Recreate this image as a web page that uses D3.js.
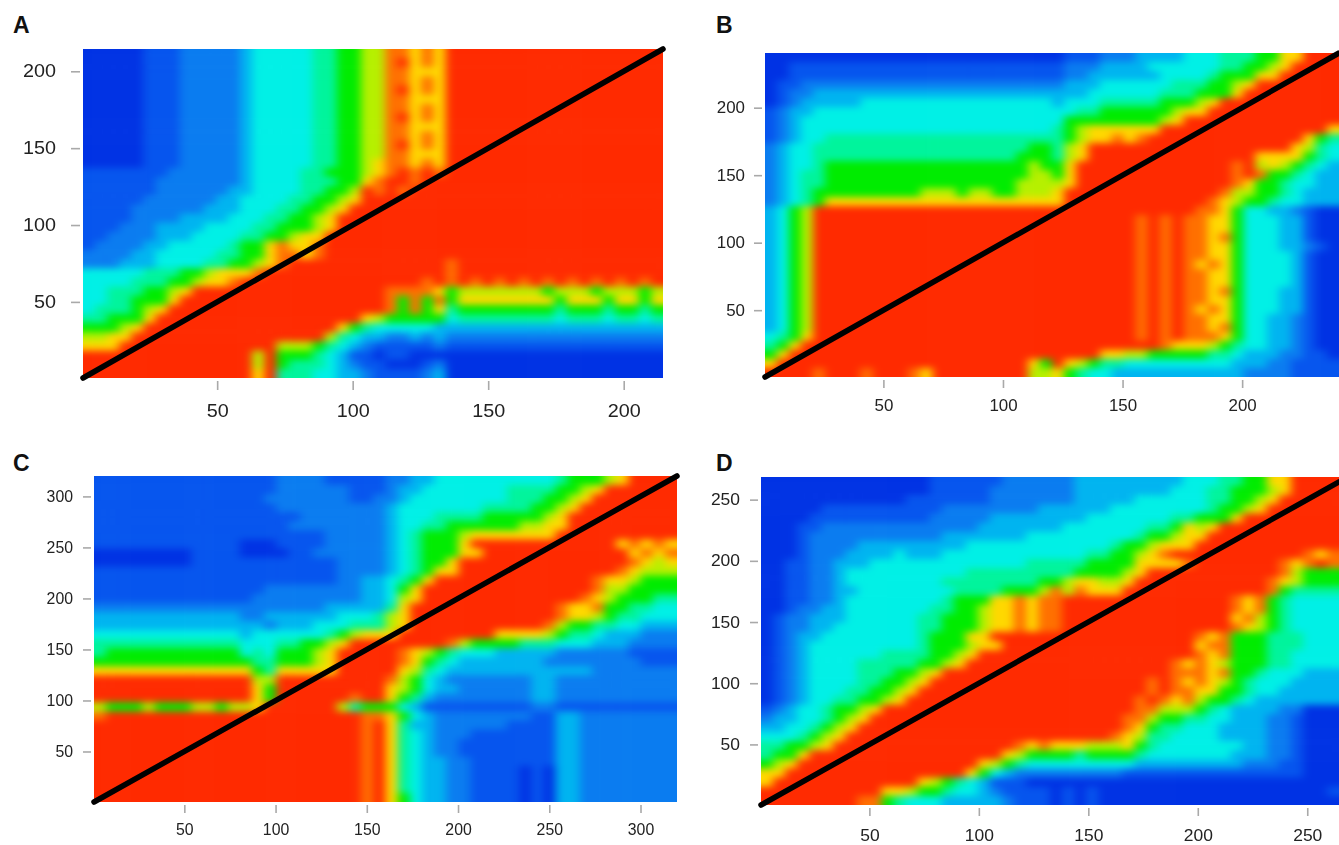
<!DOCTYPE html>
<html>
<head>
<meta charset="utf-8">
<script src="https://d3js.org/d3.v7.min.js"></script>
<style>
  body { margin: 0; background: #fff; overflow: hidden; }
  svg { display: block; }
  text { font-family: "Liberation Sans", Arial, sans-serif; }
  .tick line { stroke: #a9a9a9; stroke-width: 1.6; }
  .tick text { fill: #222; }
  .panel-label { font-weight: bold; font-size: 23px; fill: #111; }
</style>
</head>
<body>
<svg id="chart" width="1339" height="845"></svg>
<script>
// every row reads left to right, rows go top to bottom of the panel
// level 0 = deep blue ... 8 = yellow, o = orange, 9 = red
const panelA = [
  "000001112222 234444455667 7oo8o8999999 999999999999",
  "000001112222 234444455667 7o98o8999999 999999999999",
  "000001112222 234444455667 7oo888999999 999999999999",
  "000001112222 234444455667 7oo8o8999999 999999999999",
  "000001112222 234444455667 7o98o8999999 999999999999",
  "000001112222 234444455667 7oo888999999 999999999999",
  "000001112222 234444455667 7oo8o8999999 999999999999",
  "000001112222 234444455667 7o98o8999999 999999999999",
  "000001112222 234444455667 7oo888999999 999999999999",
  "000001112222 234444455667 7oo8o8999999 999999999999",
  "000001112222 234444455667 7o98o8999999 999999999999",
  "000001112222 234444455667 7oo888999999 999999999999",
  "000001112222 234444455667 8oo8o8999999 999999999999",
  "111111122222 234444556667 8o9o9o999999 999999999999",
  "111111222222 234444555668 o99o99999999 999999999999",
  "111111222222 334444556679 o9o999999999 999999999999",
  "111112222223 344445566789 999999999999 999999999999",
  "111122222233 344455667899 999999999999 999999999999",
  "111122223333 444556678999 999999999999 999999999999",
  "111222333344 445566678999 999999999999 999999999999",
  "112222333444 455667889999 999999999999 999999999999",
  "122223344444 5668o88o9999 999999999999 999999999999",
  "222233444445 5668oo8o9999 999999999999 999999999999",
  "222333444455 6678o9999999 999999o99999 999999999999",
  "444445556678 88o999999999 999999o99999 999999999999",
  "444455566788 o99999999999 9999o9o9o9o9 o9o9o9o9o9o9",
  "445556678999 999999999999 9oooo8677777 776777677767",
  "445566689999 999999999999 9o6o6o688888 888688868868",
  "455567899999 999999999999 9o6o68566666 666566656656",
  "556668999999 999999999998 766666455555 555455545545",
  "666789999999 999999999865 444443333333 333333333333",
  "778899999999 999999997543 322323222222 222222222222",
  "888999999999 999977765432 111112111111 111111111111",
  "999999999999 997966654311 011000000000 000000000000",
  "999999999999 997965554321 100012000000 000000000000",
  "999999999999 998955544332 111123000000 000000000000"
];
const panelB = [
  "000000000000 000000000000 011122233334 445556688999",
  "001111111111 111111111111 122233334444 445566789999",
  "001111111111 111111111111 122333333444 456668899999",
  "011222222222 222222222222 233344444455 566789999999",
  "012233333333 333333333333 333444444555 666899999999",
  "012333334444 444444444444 344455555666 789999999999",
  "123344444444 444444444444 445566666678 899999999999",
  "123444444444 444444444444 466666666789 999999999999",
  "123444444444 444444444444 567888888999 999999999998",
  "123445555555 555555555555 56788o8o9999 999999999865",
  "234455555555 555555555566 578999999999 999999998754",
  "234455555555 555555555666 578999999999 999998888654",
  "234456666666 666666666676 689999999999 999o97876543",
  "234556666666 666666666677 689999999999 999o9o665433",
  "234556666666 666666666777 789999999999 999o86654433",
  "234566666666 677767766777 899999999999 99o776654333",
  "234568888888 888888888888 899999999999 9o8766544333",
  "346799999999 999999999999 999999999999 oo8644332100",
  "346799999999 999999999999 9999999o9o9o o88644433100",
  "346799999999 999999999999 9999999o9o9o o88644433100",
  "346799999999 999999999999 9999999o9o9o o8o644433100",
  "346799999999 999999999999 9999999o9o9o o88644433210",
  "346799999999 999999999999 9999999o9o9o o88644443100",
  "346799999999 999999999999 9999999o9o9o 8o8644443100",
  "346799999999 999999999999 9999999o9o9o o88644443100",
  "346799999999 999999999999 9999999o9o9o o88644443100",
  "346799999999 999999999999 9999999o9o9o o8o644433100",
  "346799999999 999999999999 9999999o9o9o o88644433100",
  "346799999999 999999999999 9999999o9o9o 8o8644433100",
  "346799999999 999999999999 9999999o9o9o o88644332100",
  "346799999999 999999999999 9999999o9o9o o8o644332100",
  "456899999999 999999999999 9999999o9o9o oo8644332100",
  "568999999999 999999999999 999999999o88 876544332100",
  "689999999999 999999999999 999988776666 655433322110",
  "899999999999 999999999986 987655444444 444333221111",
  "9999o999o999 o89999999977 865443333333 333322221111"
];
const panelC = [
  "111111111111 111222211111 223344444444 445666789999",
  "111111111111 111222222111 233444444455 556678999999",
  "111111111111 112222222112 234444444455 566789999999",
  "111111111111 111222222222 344444445555 667899999999",
  "111111111111 111112222222 344455556666 678999999999",
  "111111111111 111122222222 344556666667 788999999999",
  "111111111111 111111122222 345666788888 889999999999",
  "111111111111 000111122222 345666899999 99999998o8o8",
  "000000001111 000011222222 345666889999 999999998o8o",
  "000000001111 111111112222 345668999999 99999999o878",
  "111111111111 111111112222 345688999999 9999999o8777",
  "111111111111 111111112233 456899999999 99999o887666",
  "111111111111 112222222233 468999999999 99999o776666",
  "111111111111 122222222233 478999999999 9999o8766655",
  "222222222222 222222233333 589999999999 99o88o665544",
  "333333333333 223333334445 789999999999 99o887655444",
  "333333333333 332333444555 789999999999 9o7665544333",
  "444444444444 344444456788 899999999888 876554333222",
  "555555555555 444556678999 99999o766665 554443332222",
  "566666666666 454666789999 9o8765444333 332222221111",
  "666666666666 655666789999 9o8654333333 322222222111",
  "888888888888 865888889999 987543333333 333332222222",
  "999999999999 977999999999 o76432222222 332222222222",
  "999999999999 986999999999 876433222222 332222222222",
  "999999999999 986999999o99 865322222222 332222222222",
  "766676667767 789999997566 643111111111 221111111111",
  "o99999999999 9999999999oo 864322222222 113322222222",
  "999999999999 9999999999o9 853322222211 113322222222",
  "999999999999 9999999999o9 854322211111 113322222222",
  "999999999999 9999999999o9 854322111111 113322222222",
  "999999999999 9999999999o9 854322111111 113322222222",
  "999999999999 9999999999o9 854332211111 113322222222",
  "999999999999 9999999999o9 854332211110 103322222222",
  "999999999999 9999999999o9 854332211110 103322222222",
  "999999999999 9999999999o9 854332211110 103322222222",
  "999999999999 9999999999o9 864332211110 103322222222"
];
const panelD = [
  "000000000000 001111112222 223333333334 445566889999",
  "000000000000 001111122222 223333333344 455666789999",
  "000000000000 111111122222 223333344444 455667899999",
  "000001111111 111222222223 333334444444 456678999999",
  "000011111111 112222233333 333444444455 666899999999",
  "000112222222 222222333333 344444445568 789999999999",
  "000122222222 222333333344 444444456678 899999999999",
  "000122223333 333334444444 444445667888 999999999999",
  "000122233334 333444444444 444556678o99 999999999o8o",
  "001122333444 444444444455 55566668888o 9999999o8o9o",
  "001122344444 444445555555 556666789999 9999999o7666",
  "001122344444 444555555556 678877899999 999999o87666",
  "001122334444 444455556667 o7o888999999 999999o65555",
  "001122344444 4445666 88o8o o99999999999 999o8o654444",
  "001223344444 445566788o8o o99999999999 999o8o654444",
  "012233344444 455666788o8o o99999999999 9998o7654444",
  "012233444444 455666788o8o o99999999999 999o87654444",
  "012334444444 456668899999 999999999999 o8o666555444",
  "012344444444 456667889999 999999999999 8oo666555444",
  "012344444455 556678999999 999999999999 o8o666554444",
  "012344445555 566789999999 9999999999o8 o87666554444",
  "012344445556 678999999999 9999999999oo o8o665444333",
  "012344445566 789999999999 99999999o9o8 o87654443333",
  "012344455667 899999999999 99999999o9oo 886654433333",
  "012344556678 999999999999 9999999o9o8o 766543333333",
  "123445667899 999999999999 9999999oo777 654333322000",
  "233445678999 999999999999 999999oo7665 544333221000",
  "334456789999 999999999999 999999o86554 443333221000",
  "444567899999 999999999999 99999o875544 443333221000",
  "556678999999 999999999o8o 888777865444 444433221000",
  "566899999999 999999998766 665666654444 444333221000",
  "678999999999 999999876544 444444433333 333322211000",
  "889999999999 999998643222 222222111111 111111111000",
  "899999999999 987654311100 000000000000 000000000000",
  "999999999988 766544321111 010100000000 000000000001",
  "99999999oo65 444333332111 010100000000 000000000000"
];

// axis ticks
const ticksA = [50, 100, 150, 200];
const ticksB = [50, 100, 150, 200];
const ticksCx = [50, 100, 150, 200, 250, 300];
const ticksCy = [50, 100, 150, 200, 250, 300];
const ticksDx = [50, 100, 150, 200, 250];
const ticksDy = [50, 100, 150, 200, 250];

// matrix sizes
const sizeA = 214.5, sizeB = 240.5, sizeC = 320, sizeD = 264.5;

const levelColor = d3.scaleLinear()
  .domain([0, 1, 2, 3, 4, 5, 6, 7, 8, 9])
  .range(["#0032e4", "#0655ee", "#0a7cf0", "#00b4f0", "#00f0e6", "#00f49c", "#00ec00", "#b6f000", "#ffd800", "#ff2a00"])
  .clamp(true);

const panels = [
  { name: "A", rows: panelA, xTicks: ticksA, yTicks: ticksA, xMax: sizeA, yMax: sizeA, left: 83, right: 663, top: 49, bottom: 378,
    labelX: 13, labelY: 33, font: 17.5, digit: 11, tick: 9, padX: 15, padY: 15 },
  { name: "B", rows: panelB, xTicks: ticksB, yTicks: ticksB, xMax: sizeB, yMax: sizeB, left: 765, right: 1339, top: 53, bottom: 377,
    labelX: 716, labelY: 33, font: 16, digit: 9.4, tick: 8, padX: 12, padY: 9 },
  { name: "C", rows: panelC, xTicks: ticksCx, yTicks: ticksCy, xMax: sizeC, yMax: sizeC, left: 94, right: 677, top: 476, bottom: 802,
    labelX: 13, labelY: 471, font: 16, digit: 8.8, tick: 8, padX: 11, padY: 10 },
  { name: "D", rows: panelD, xTicks: ticksDx, yTicks: ticksDy, xMax: sizeD, yMax: 268.5, left: 761, right: 1339, top: 477, bottom: 805,
    labelX: 716, labelY: 471, font: 16, digit: 9.7, tick: 8, padX: 14, padY: 10 }
];

const svg = d3.select("svg#chart");
const defs = svg.append("defs");

// the picture is a soft, upscaled raster
defs.append("filter").attr("id", "soft")
  .attr("x", "-5%").attr("y", "-5%").attr("width", "110%").attr("height", "110%")
  .attr("color-interpolation-filters", "sRGB")
  .append("feGaussianBlur").attr("stdDeviation", "5 3.5");
defs.append("filter").attr("id", "softText")
  .append("feGaussianBlur").attr("stdDeviation", 0.35);

function toLevel(ch) {
  return ch === "o" ? 8.6 : +ch;
}

panels.forEach(function(p) {
  const grid = p.rows.map(r => r.replace(/ /g, "").split("").map(toLevel));
  const cols = d3.range(grid[0].length);
  const rows = d3.range(grid.length);

  const xBand = d3.scaleBand().domain(cols).range([p.left, p.right]);
  const yBand = d3.scaleBand().domain(rows).range([p.top, p.bottom]);
  const x = d3.scaleLinear().domain([0.5, p.xMax]).range([p.left, p.right]);
  const y = d3.scaleLinear().domain([0.5, p.yMax]).range([p.bottom, p.top]);

  const cells = [];
  grid.forEach((line, r) => line.forEach((v, c) => cells.push({ r: r, c: c, v: v })));

  defs.append("clipPath").attr("id", "clip" + p.name)
    .append("rect")
    .attr("x", p.left).attr("y", p.top)
    .attr("width", p.right - p.left).attr("height", p.bottom - p.top);

  const g = svg.append("g").attr("class", "panel");

  // edge cells run past the plot so the blur does not fade at the border
  const spill = 16;
  g.append("g").attr("clip-path", "url(#clip" + p.name + ")")
    .append("g").attr("filter", "url(#soft)")
    .selectAll("rect").data(cells).enter().append("rect")
    .attr("x", d => xBand(d.c) - (d.c === 0 ? spill : 0))
    .attr("y", d => yBand(d.r) - (d.r === 0 ? spill : 0))
    .attr("width", d => xBand.bandwidth() + 0.5 + (d.c === 0 || d.c === cols.length - 1 ? spill : 0))
    .attr("height", d => yBand.bandwidth() + 0.5 + (d.r === 0 || d.r === rows.length - 1 ? spill : 0))
    .attr("fill", d => levelColor(d.v));

  // black diagonal
  const n = Math.min(p.xMax, p.yMax);
  g.append("line")
    .attr("x1", x(0.5)).attr("y1", y(0.5))
    .attr("x2", x(n)).attr("y2", y(n))
    .attr("stroke", "#000")
    .attr("stroke-width", 5.5)
    .attr("stroke-linecap", "round");

  const xAxis = d3.axisBottom(x).tickValues(p.xTicks).tickSize(p.tick).tickPadding(p.padX);
  const yAxis = d3.axisLeft(y).tickValues(p.yTicks).tickSize(p.tick).tickPadding(p.padY);

  const ax = g.append("g").attr("transform", "translate(0," + (p.bottom + 3) + ")").call(xAxis);
  const ay = g.append("g").attr("transform", "translate(" + (p.left - 3) + ",0)").call(yAxis);
  [ax, ay].forEach(function(a) {
    a.select(".domain").remove();
    a.selectAll("text")
      .attr("font-size", p.font)
      .attr("textLength", d => String(d).length * p.digit)
      .attr("lengthAdjust", "spacingAndGlyphs")
      .attr("filter", "url(#softText)")
      .style("font-family", "'Liberation Sans', Arial, sans-serif");
  });

  g.append("text")
    .attr("class", "panel-label")
    .attr("x", p.labelX)
    .attr("y", p.labelY)
    .text(p.name);
});
</script>
</body>
</html>
